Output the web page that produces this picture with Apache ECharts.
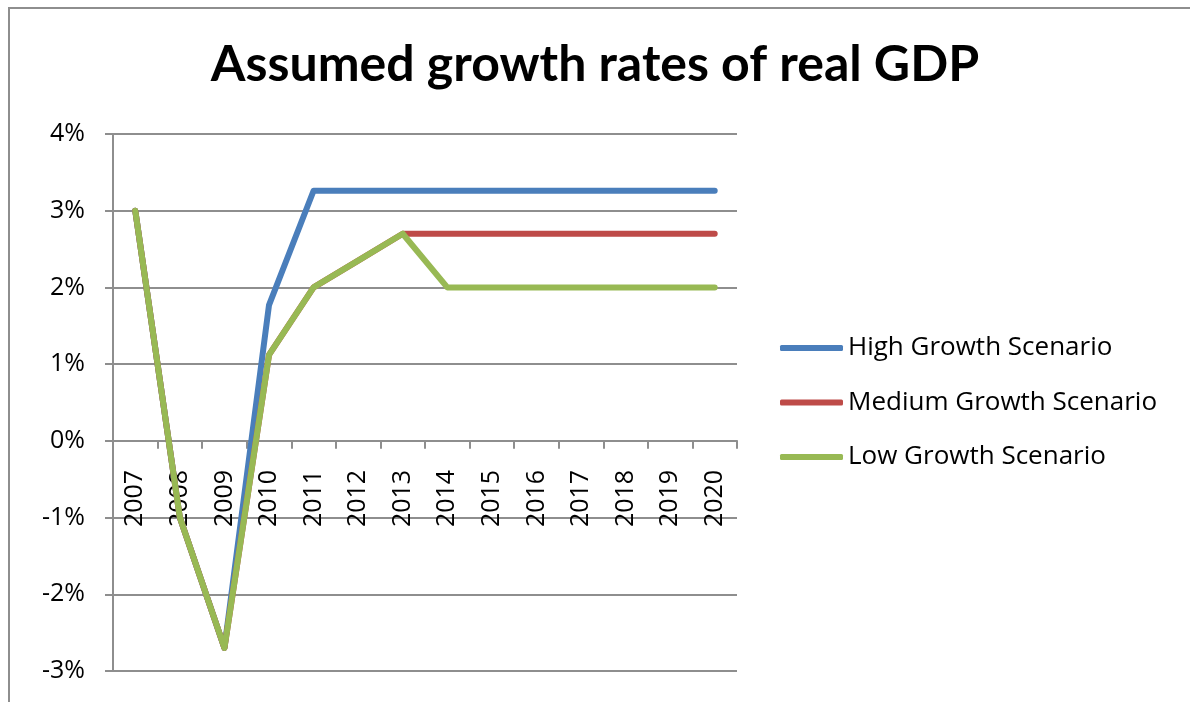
<!DOCTYPE html>
<html>
<head>
<meta charset="utf-8">
<script src="https://cdn.jsdelivr.net/npm/echarts@6/dist/echarts.min.js"></script>
<style>
  html, body { margin: 0; padding: 0; background: #fff; }
  #chart { width: 1190px; height: 702px; }
</style>
</head>
<body>
<div id="chart"></div>
<script>
// Years on the category axis
const years = ['2007', '2008', '2009', '2010', '2011', '2012', '2013',
               '2014', '2015', '2016', '2017', '2018', '2019', '2020'];

// Assumed real GDP growth per scenario, in percent
const highGrowth   = [3.0, -1.0, -2.7, 1.77, 3.26, 3.26, 3.26, 3.26, 3.26, 3.26, 3.26, 3.26, 3.26, 3.26];
const mediumGrowth = [3.0, -1.0, -2.7, 1.12, 2.0, 2.35, 2.7, 2.7, 2.7, 2.7, 2.7, 2.7, 2.7, 2.7];
const lowGrowth    = [3.0, -1.0, -2.7, 1.12, 2.0, 2.35, 2.7, 2.0, 2.0, 2.0, 2.0, 2.0, 2.0, 2.0];

// Value axis range, in percent
const yMin = -3;
const yMax = 4;
const yStep = 1;

const seriesNames = ['High Growth Scenario', 'Medium Growth Scenario', 'Low Growth Scenario'];
const seriesColors = ['#4A7EBB', '#BE4B48', '#98B954'];

const gridColor = '#8e8e8e';
const gridTop = 134;
const gridBottom = 31;
const chartHeight = 702;
const chart = echarts.init(document.getElementById('chart'));

// Distance from the plot's bottom edge up to the zero line,
// so the year labels can sit just under the zero axis.
const plotHeight = chartHeight - gridTop - gridBottom;
const zeroLift = plotHeight * (0 - yMin) / (yMax - yMin);

function lineSeries(name, data, color) {
  return {
    name: name,
    type: 'line',
    data: data,
    symbol: 'none',
    smooth: false,
    color: color,
    lineStyle: { width: 6, color: color, cap: 'round', join: 'round' },
    emphasis: { disabled: true }
  };
}

chart.setOption({
  animation: false,
  backgroundColor: '#ffffff',
  title: {
    text: 'Assumed growth rates of real GDP',
    left: 'center',
    top: 40,
    padding: 0,
    textStyle: {
      fontFamily: 'Lato',
      fontWeight: 'bold',
      fontSize: 50,
      color: '#000'
    }
  },
  graphic: [{
    type: 'rect',
    shape: { x: 9, y: 8, width: 1200, height: 800 },
    style: { fill: 'none', stroke: gridColor, lineWidth: 2 },
    silent: true,
    z: -1
  }],
  legend: {
    orient: 'vertical',
    left: 780,
    top: 333,
    padding: 0,
    itemWidth: 63,
    itemHeight: 6,
    itemGap: 24.5,
    icon: 'roundRect',
    data: seriesNames,
    textStyle: {
      fontFamily: 'Open Sans',
      fontSize: 26,
      lineHeight: 30,
      color: '#000'
    }
  },
  grid: {
    left: 113,
    right: 453,
    top: gridTop,
    bottom: gridBottom,
    containLabel: false,
    outerBoundsMode: 'none'
  },
  xAxis: [{
    // zero line with its category ticks
    type: 'category',
    data: years,
    boundaryGap: true,
    axisLine: { onZero: true, lineStyle: { color: gridColor, width: 2 } },
    axisTick: { show: true, length: 8, lineStyle: { color: gridColor, width: 2 } },
    axisLabel: { show: false },
    splitLine: { show: false }
  }, {
    // year labels, lifted up to hang under the zero line
    type: 'category',
    data: years,
    boundaryGap: true,
    position: 'bottom',
    offset: -zeroLift,
    axisLine: { show: false, onZero: false },
    axisTick: { show: false },
    axisLabel: {
      rotate: 90,
      margin: 29,
      interval: 0,
      fontFamily: 'Open Sans',
      fontSize: 25,
      color: '#000'
    },
    splitLine: { show: false }
  }],
  yAxis: {
    type: 'value',
    min: yMin,
    max: yMax,
    interval: yStep,
    axisLine: { show: true, lineStyle: { color: gridColor, width: 2 } },
    axisTick: { show: true, length: 8, lineStyle: { color: gridColor, width: 2 } },
    axisLabel: {
      formatter: '{value}%',
      margin: 28,
      fontFamily: 'Open Sans',
      fontSize: 25,
      color: '#000'
    },
    splitLine: { show: true, lineStyle: { color: gridColor, width: 2 } }
  },
  series: [
    lineSeries(seriesNames[0], highGrowth, seriesColors[0]),
    lineSeries(seriesNames[1], mediumGrowth, seriesColors[1]),
    lineSeries(seriesNames[2], lowGrowth, seriesColors[2])
  ]
});
</script>
</body>
</html>
